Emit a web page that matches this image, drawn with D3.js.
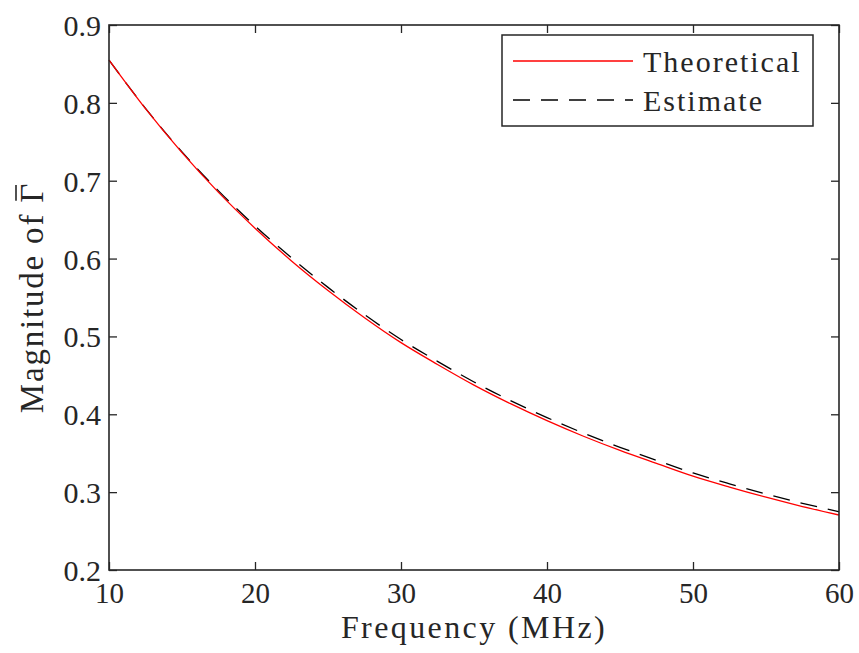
<!DOCTYPE html>
<html lang="en">
<head>
  <meta charset="UTF-8">
  <title>Magnitude of Gamma</title>
  <script src="https://d3js.org/d3.v7.min.js"></script>
  <style>
    body { margin: 0; background: #fff; }
    svg text { font-family: "Liberation Serif", "DejaVu Serif", serif; fill: #262626; }
    .axisline { fill: none; stroke: #262626; stroke-width: 1.6px; }
    .tick line { stroke: #262626; stroke-width: 1.3px; }
  </style>
</head>
<body>
<svg id="chart" width="859" height="653"></svg>
<script>
  // values, every 2.5 MHz
  const freq = [10, 12.5, 15, 17.5, 20, 22.5, 25, 27.5, 30, 32.5, 35, 37.5, 40, 42.5, 45, 47.5, 50, 52.5, 55, 57.5, 60];
  const theoretical = [0.855, 0.7925, 0.736, 0.685, 0.639, 0.597, 0.559, 0.524, 0.492, 0.464, 0.4375, 0.4136, 0.3918, 0.3718, 0.3536, 0.3369, 0.3205, 0.3065, 0.2935, 0.2815, 0.2706];
  const estimate = [0.855, 0.793, 0.737, 0.687, 0.642, 0.601, 0.563, 0.528, 0.496, 0.468, 0.4415, 0.4176, 0.3958, 0.3758, 0.3576, 0.3409, 0.3247, 0.3107, 0.2977, 0.2857, 0.2748];
  const xTicks = [10, 20, 30, 40, 50, 60];
  const yTicks = [0.2, 0.3, 0.4, 0.5, 0.6, 0.7, 0.8, 0.9];
  const seriesNames = ["Theoretical", "Estimate"];

  const svg = d3.select("#chart");
  const margin = { top: 25, right: 20, bottom: 83, left: 109 };
  const width = 859 - margin.left - margin.right;
  const height = 653 - margin.top - margin.bottom;

  const x = d3.scaleLinear().domain([10, 60]).range([0, width]);
  const y = d3.scaleLinear().domain([0.2, 0.9]).range([height, 0]);

  const plot = svg.append("g").attr("transform", "translate(" + margin.left + "," + margin.top + ")");

  // lines
  const line = d3.line().x(d => x(d[0])).y(d => y(d[1])).curve(d3.curveMonotoneX);
  const theoData = freq.map((f, i) => [f, theoretical[i]]);
  const estData = freq.map((f, i) => [f, estimate[i]]);

  plot.append("path").datum(estData)
      .attr("d", line).attr("fill", "none")
      .attr("stroke", "#000").attr("stroke-width", 1.3)
      .attr("stroke-dasharray", "17,11");
  plot.append("path").datum(theoData)
      .attr("d", line).attr("fill", "none")
      .attr("stroke", "#ff0000").attr("stroke-width", 1.3);

  // axes (ticks inward, box)
  const fmt = d3.format(".1f");
  const bottom = plot.append("g").attr("transform", "translate(0," + height + ")")
      .call(d3.axisBottom(x).tickValues(xTicks).tickSize(-8).tickPadding(12).tickFormat(d3.format("d")));
  const left = plot.append("g")
      .call(d3.axisLeft(y).tickValues(yTicks).tickSize(-8).tickPadding(8).tickFormat(fmt));
  plot.append("g")
      .call(d3.axisTop(x).tickValues(xTicks).tickSize(-8).tickFormat(""));
  plot.append("g").attr("transform", "translate(" + width + ",0)")
      .call(d3.axisRight(y).tickValues(yTicks).tickSize(-8).tickFormat(""));
  plot.selectAll(".domain").remove();
  plot.append("rect").attr("class", "axisline")
      .attr("x", 0).attr("y", 0).attr("width", width).attr("height", height);

  bottom.selectAll("text").style("font-size", "29px").attr("dy", "0.71em").attr("fill", "#262626");
  left.selectAll("text").style("font-size", "30px").attr("dy", "0.35em").attr("fill", "#262626");

  // axis labels
  svg.append("text")
      .attr("x", margin.left + width / 2).attr("y", 638)
      .attr("text-anchor", "middle")
      .style("font-size", "32px").style("letter-spacing", "2.4px")
      .text("Frequency (MHz)");

  const ylabG = svg.append("g")
      .attr("transform", "translate(43," + (margin.top + height / 2) + ") rotate(-90)");
  const ylab = ylabG.append("text")
      .attr("text-anchor", "middle")
      .style("font-size", "33px").style("letter-spacing", "1.8px")
      .text("Magnitude of \u0393");
  // bar over the Gamma
  const gIdx = ylab.text().length - 1;
  const gBox = ylab.node().getExtentOfChar(gIdx);
  ylabG.append("line")
      .attr("x1", gBox.x + 2).attr("x2", gBox.x + gBox.width - 3)
      .attr("y1", -27).attr("y2", -27)
      .attr("stroke", "#262626").attr("stroke-width", 1.6);

  // legend
  const legend = svg.append("g");
  legend.append("rect")
      .attr("x", 502).attr("y", 35).attr("width", 311).attr("height", 91)
      .attr("fill", "#fff").attr("stroke", "#262626").attr("stroke-width", 1.5);
  const legY = d3.scalePoint().domain(seriesNames).range([61, 100]);
  const legStroke = { "Theoretical": "#ff0000", "Estimate": "#000" };
  const legDash = { "Theoretical": null, "Estimate": "17,11" };
  seriesNames.forEach(name => {
    legend.append("line")
        .attr("x1", 513).attr("x2", 633)
        .attr("y1", legY(name)).attr("y2", legY(name))
        .attr("stroke", legStroke[name]).attr("stroke-width", 1.3)
        .attr("stroke-dasharray", legDash[name]);
    legend.append("text")
        .attr("x", 643).attr("y", legY(name)).attr("dy", "0.35em")
        .style("font-size", "30px").style("letter-spacing", "2px")
        .text(name);
  });
</script>
</body>
</html>
